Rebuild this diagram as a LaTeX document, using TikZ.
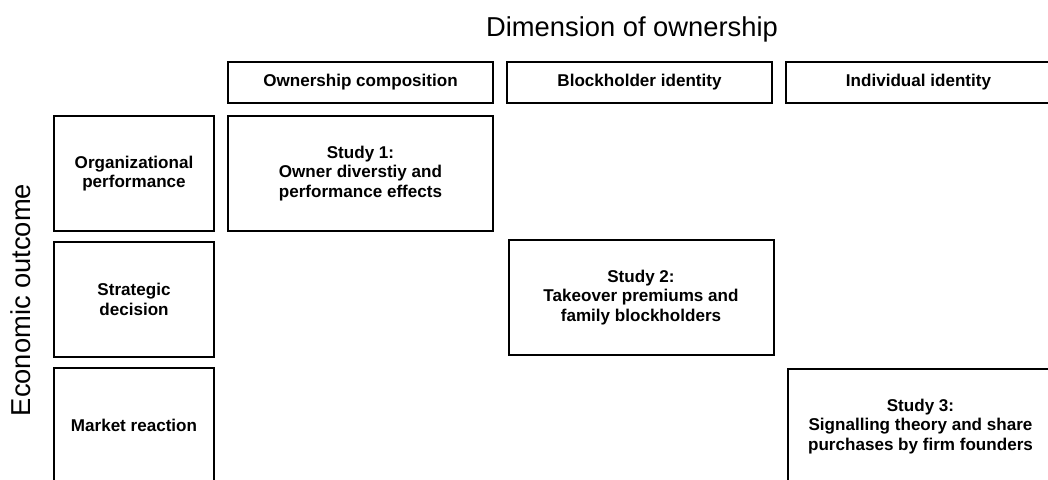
\documentclass[tikz,border=0pt]{standalone}
\usepackage{fontspec}
\setmainfont{Liberation Sans}
\begin{document}
\begin{tikzpicture}[x=0.75pt,y=-0.75pt,
		cell/.style={draw, line width=1.5pt, align=center, inner sep=0pt,
			font=\bfseries\fontsize{12.8}{14.5}\selectfont},
		headcell/.style={cell, minimum width=198.75pt, minimum height=30.75pt},
		rowcell/.style={cell, minimum width=120pt, minimum height=86.25pt},
		studycell/.style={cell, minimum width=198.75pt, minimum height=86.25pt},
		axistitle/.style={font=\fontsize{20.5}{24}\selectfont}]
			% page frame
			\clip (0,0) rectangle (1048,479);
			% axis titles
			\node[axistitle] (dimtitle) at (632,29) {Dimension of ownership};
			\node[axistitle, rotate=90] (outtitle) at (21,300) {Economic outcome};
			% column heads
			\node[headcell] (composition) at (360.5,82.5) {Ownership composition};
			\node[headcell] (blockholder) at (639.5,82.5) {Blockholder identity};
			\node[headcell] (individual) at (918.5,82.5) {Individual identity};
			% row heads
			\node[rowcell] (orgperf) at (134,173.5) {Organizational\\performance};
			\node[rowcell] (strategic) at (134,299.5) {Strategic\\decision};
			\node[rowcell] (market) at (134,425.5) {Market reaction};
			% studies
			\node[studycell] (studyone) at (360.5,173.5) {Study 1:\\Owner diverstiy and\\performance effects};
			\node[studycell] (studytwo) at (641,297.5) {Study 2:\\Takeover premiums and\\family blockholders};
			\node[studycell] (studythree) at (920.5,426.5) {Study 3:\\Signalling theory and share\\purchases by firm founders};
		\end{tikzpicture}
\end{document}
